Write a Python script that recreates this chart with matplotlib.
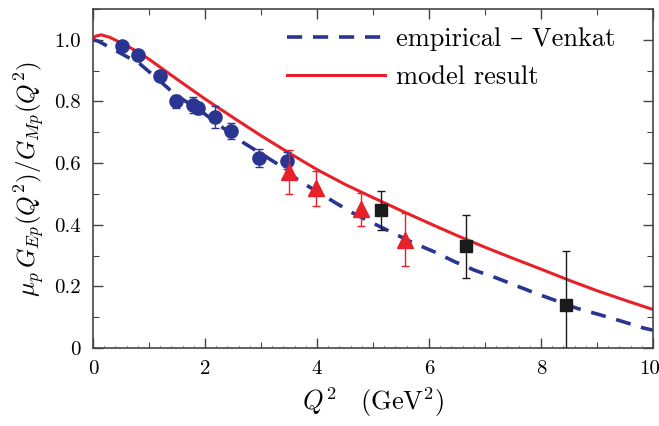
import matplotlib
matplotlib.use("Agg")
import matplotlib.pyplot as plt
from matplotlib.ticker import MultipleLocator, FixedLocator, NullFormatter
from matplotlib.transforms import ScaledTranslation
import numpy as np

plt.rcParams['font.family'] = ['cmr10', 'DejaVu Serif']
plt.rcParams['mathtext.fontset'] = 'cm'
plt.rcParams['axes.unicode_minus'] = False
plt.rcParams['axes.formatter.use_mathtext'] = True

# Data
jlab_q2 = [0.51, 0.81, 1.20, 1.49, 1.79, 1.88, 2.17, 2.47, 2.96, 3.46]
jlab_r = [0.979, 0.952, 0.884, 0.800, 0.788, 0.779, 0.749, 0.704, 0.617, 0.608]
jlab_err = [0.010, 0.012, 0.014, 0.021, 0.025, 0.020, 0.035, 0.026, 0.029, 0.028]

gayou_q2 = [3.50, 3.99, 4.78, 5.58]
gayou_r = [0.571, 0.518, 0.450, 0.352]
gayou_err = [0.072, 0.056, 0.053, 0.085]

puck_q2 = [5.14, 6.66, 8.45]
puck_r = [0.447, 0.330, 0.141]
puck_err = [0.064, 0.103, 0.175]

venkat_q2 = [0.0, 0.10, 0.83, 1.07, 1.34, 1.43, 1.97, 2.36, 2.68, 3.34, 3.67,
             4.35, 4.65, 5.00, 5.36, 5.72, 6.11, 6.46, 6.82, 7.21, 7.56, 7.90,
             8.64, 9.05, 9.44, 9.83, 10.0]
venkat_r = [1.000, 0.995, 0.923, 0.886, 0.843, 0.827, 0.763, 0.709, 0.667, 0.592,
            0.544, 0.469, 0.437, 0.405, 0.373, 0.341, 0.311, 0.280, 0.252, 0.227,
            0.202, 0.178, 0.129, 0.108, 0.087, 0.065, 0.058]

model_q2 = [0.0, 0.05, 0.15, 0.30, 0.50, 0.75, 1.0, 1.5, 2.0, 2.5, 3.0, 3.5, 4.0,
            4.5, 5.0, 5.5, 6.0, 6.5, 7.0, 7.5, 8.0, 8.5, 9.0, 9.5, 10.0]
model_r = [1.003, 1.012, 1.016, 1.008, 0.990, 0.966, 0.937, 0.872, 0.808, 0.748,
           0.689, 0.633, 0.579, 0.531, 0.488, 0.446, 0.405, 0.365, 0.327, 0.291,
           0.256, 0.220, 0.186, 0.155, 0.125]

xticks = [0, 2, 4, 6, 8, 10]
xtick_labels = ['0', '2', '4', '6', '8', '10']
yticks = [0, 0.2, 0.4, 0.6, 0.8, 1.0]
ytick_labels = ['0', '0.2', '0.4', '0.6', '0.8', '1.0']

blue = '#2a3592'
red = '#e8202a'
black = '#1a1a1a'

fig = plt.figure(figsize=(6.59, 4.26), dpi=100)
ax = fig.add_axes([0.1411, 0.183, 0.8498, 0.796])

ax.plot(venkat_q2, venkat_r, ls=(0, (4.2, 3.0)), color=blue, lw=2.6,
        label='empirical \u2013 Venkat', zorder=2)
ax.plot(model_q2, model_r, ls='-', color=red, lw=2.2, label='model result', zorder=2)

ax.errorbar(jlab_q2, jlab_r, yerr=jlab_err, fmt='o', color=blue, ms=9.5,
            elinewidth=1.0, capsize=3, capthick=1.0, zorder=3)
ax.errorbar(gayou_q2, gayou_r, yerr=gayou_err, fmt='^', color=red, ms=12,
            elinewidth=1.0, capsize=3, capthick=1.0, zorder=4)
ax.errorbar(puck_q2, puck_r, yerr=puck_err, fmt='s', color=black, ms=8.5,
            elinewidth=1.0, capsize=3, capthick=1.0, zorder=4)

ax.set_xlim(0, 10)
ax.set_ylim(0, 1.1)
ax.xaxis.set_major_locator(FixedLocator(xticks))
ax.xaxis.set_minor_locator(MultipleLocator(1))
ax.yaxis.set_major_locator(FixedLocator(yticks))
ax.yaxis.set_minor_locator(MultipleLocator(0.1))
ax.set_yticklabels(ytick_labels)
ax.set_xticklabels(xtick_labels)
ax.tick_params(which='both', direction='in', top=True, right=True, color='#444444')
ax.tick_params(which='major', length=7, width=1.0, labelsize=15, pad=9)
ax.tick_params(which='minor', length=4, width=0.8)
for s in ax.spines.values():
    s.set_color('#444444')
    s.set_linewidth(1.2)

# keep the last x tick label ("10") inside the canvas
last = ax.get_xticklabels()[-1]
last.set_horizontalalignment('right')
last.set_transform(last.get_transform() + ScaledTranslation(5 / 72, 0, fig.dpi_scale_trans))

sec = ax.secondary_xaxis('bottom')
sec.xaxis.set_major_locator(MultipleLocator(0.2))
sec.xaxis.set_major_formatter(NullFormatter())
sec.tick_params(direction='in', length=2, width=0.5, color='#888888')
sec.spines['bottom'].set_visible(False)

ax.set_xlabel(r'$Q^2\ \ \ (\mathrm{GeV}^2)$', fontsize=19, labelpad=5)
ax.set_ylabel(r'$\mu_p\, G_{Ep}(Q^2)/G_{Mp}(Q^2)$', fontsize=18, labelpad=5)

leg = ax.legend(loc='upper right', frameon=False, fontsize=19, handlelength=3.7,
                handletextpad=0.4, borderaxespad=0.3, labelspacing=0.55,
                bbox_to_anchor=(0.965, 1.0))

fig.savefig('out.png', dpi=100)
